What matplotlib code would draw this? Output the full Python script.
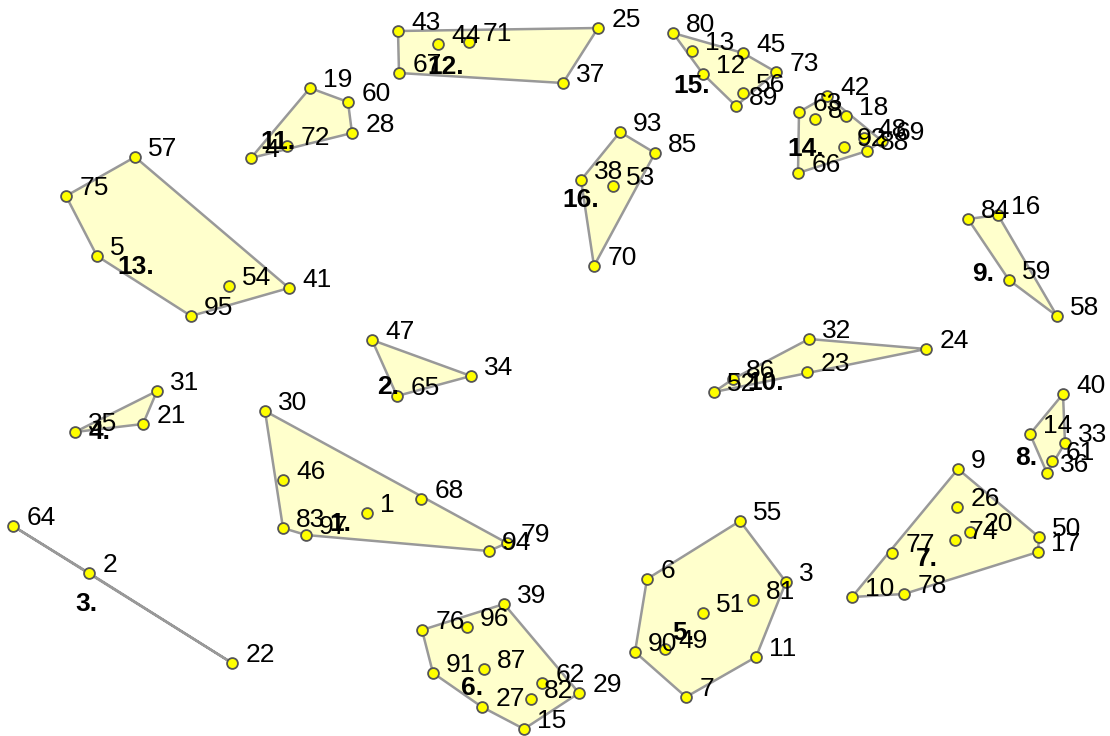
import numpy as np
import matplotlib
matplotlib.use("Agg")
import matplotlib.pyplot as plt

plt.rcParams['font.family'] = ['Liberation Sans', 'DejaVu Sans']

# point ids, screen-like coordinates (y grows downward) and cluster number
ids = [30, 46, 83, 97, 1, 68, 94, 79,
       47, 65, 34,
       64, 2, 22,
       35, 31, 21,
       55, 6, 3, 81, 51, 90, 49, 11, 7,
       39, 76, 96, 91, 87, 27, 82, 62, 29, 15,
       9, 26, 20, 74, 77, 10, 78, 50, 17,
       40, 14, 33, 61, 36,
       84, 16, 59, 58,
       32, 24, 23, 86, 52,
       19, 60, 28, 72, 4,
       43, 44, 71, 25, 37, 67,
       57, 75, 5, 54, 41, 95,
       63, 42, 8, 18, 92, 48, 69, 88, 66,
       80, 13, 45, 73, 12, 56, 89,
       93, 85, 38, 53, 70]
xs = [265, 283, 283, 306, 367, 421, 489, 507,
      372, 397, 471,
      13, 89, 232,
      75, 157, 143,
      740, 647, 786, 753, 703, 635, 665, 756, 686,
      504, 422, 467, 433, 484, 482, 531, 542, 579, 524,
      958, 957, 970, 955, 892, 852, 904, 1039, 1038,
      1063, 1030, 1065, 1052, 1047,
      968, 998, 1009, 1057,
      809, 926, 807, 733, 714,
      310, 348, 352, 287, 251,
      398, 438, 469, 598, 563, 399,
      135, 66, 97, 229, 289, 191,
      799, 827, 815, 846, 844, 864, 882, 867, 798,
      673, 692, 743, 776, 703, 743, 736,
      620, 655, 581, 613, 594]
ys = [411, 480, 528, 535, 513, 499, 551, 543,
      340, 396, 376,
      526, 573, 663,
      432, 391, 424,
      521, 579, 582, 600, 613, 652, 649, 657, 697,
      604, 630, 627, 673, 669, 707, 699, 683, 693, 729,
      469, 507, 532, 540, 553, 597, 594, 537, 552,
      394, 434, 443, 461, 473,
      219, 215, 280, 316,
      339, 349, 372, 379, 392,
      88, 102, 133, 146, 158,
      31, 44, 42, 28, 83, 73,
      157, 196, 256, 286, 288, 316,
      112, 96, 119, 116, 147, 138, 141, 151, 173,
      33, 51, 53, 72, 74, 93, 106,
      132, 153, 180, 186, 266]
cluster = [1] * 8 + [2] * 3 + [3] * 3 + [4] * 3 + [5] * 9 + [6] * 10 + \
          [7] * 9 + [8] * 5 + [9] * 4 + [10] * 5 + [11] * 5 + [12] * 6 + \
          [13] * 6 + [14] * 9 + [15] * 7 + [16] * 5

xs = np.array(xs, float)
ys = np.array(ys, float)
cluster = np.array(cluster)


def hull(pts):
    # monotone chain convex hull
    pts = sorted(map(tuple, pts))
    if len(pts) < 3:
        return pts

    def cross(o, a, b):
        return (a[0]-o[0])*(b[1]-o[1]) - (a[1]-o[1])*(b[0]-o[0])
    lower, upper = [], []
    for p in pts:
        while len(lower) >= 2 and cross(lower[-2], lower[-1], p) <= 0:
            lower.pop()
        lower.append(p)
    for p in reversed(pts):
        while len(upper) >= 2 and cross(upper[-2], upper[-1], p) <= 0:
            upper.pop()
        upper.append(p)
    return lower[:-1] + upper[:-1]


fig = plt.figure(figsize=(11.1, 7.36), dpi=100)
ax = fig.add_axes([0, 0, 1, 1])
ax.set_xlim(0, 1110)
ax.set_ylim(736, 0)
ax.axis('off')

for c in np.unique(cluster):
    m = cluster == c
    h = np.array(hull(np.column_stack([xs[m], ys[m]])))
    ax.fill(h[:, 0], h[:, 1], facecolor='#ffffcc', edgecolor='#999999',
            linewidth=1.8, zorder=1)

ax.plot(xs, ys, 'o', color='#ffff00', markeredgecolor='#555555',
        markersize=7.8, markeredgewidth=1.3, linestyle='none', zorder=3)

for i, x, y in zip(ids, xs, ys):
    ax.annotate(str(i), (x, y), xytext=(9.5, 5.8), textcoords='offset points',
                ha='left', va='center', fontsize=19, zorder=4)

for c in np.unique(cluster):
    m = cluster == c
    cx, cy = xs[m].mean(), ys[m].mean()
    ax.annotate(f'{c}.', (cx, cy), xytext=(-10, -12), textcoords='offset points',
                ha='right', va='center', fontsize=19, fontweight='bold', zorder=5)

fig.savefig('out.png', dpi=100)
